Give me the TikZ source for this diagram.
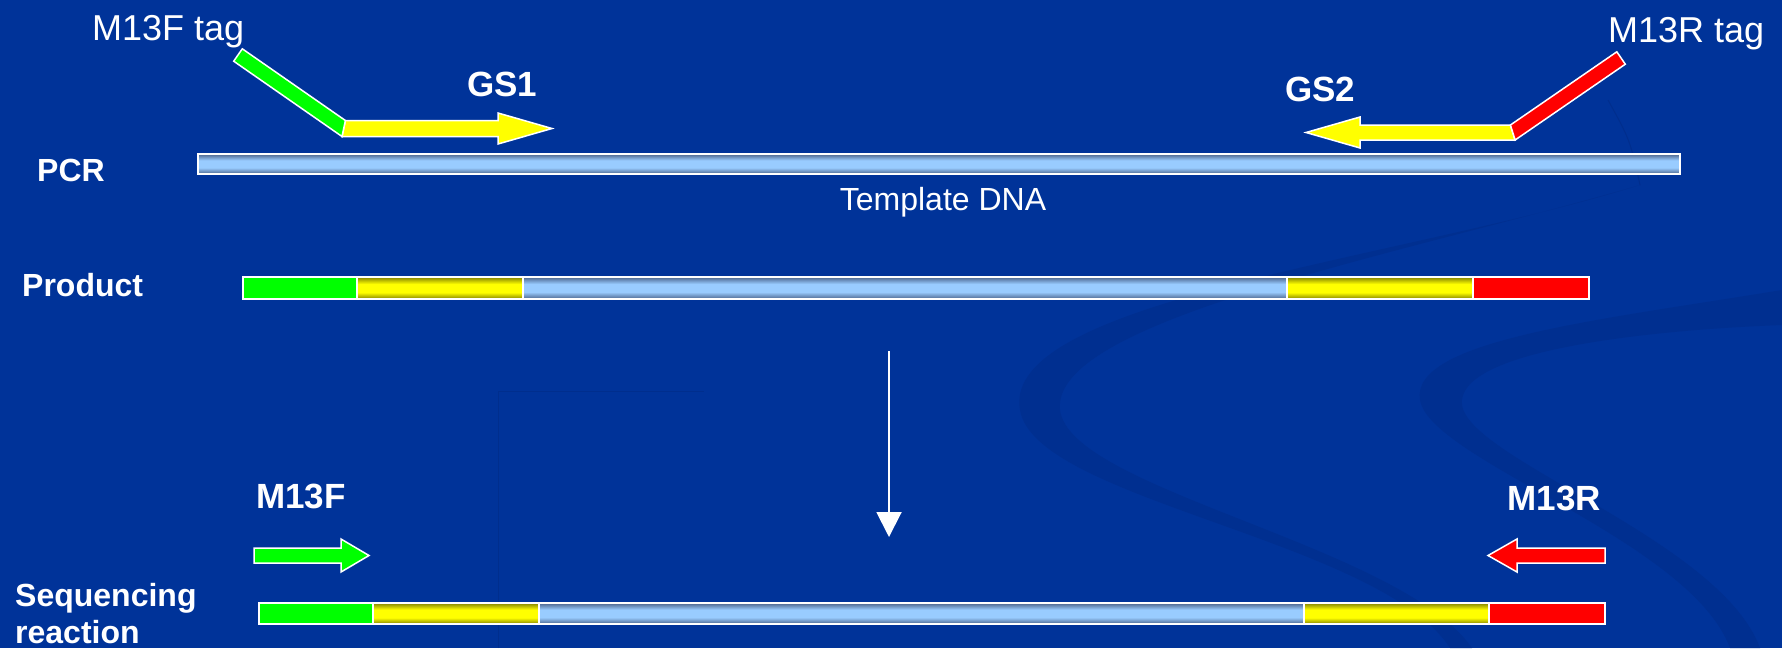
\documentclass[tikz,border=0pt]{standalone}
\usepackage{fontspec}
\setmainfont{Liberation Sans}
\usetikzlibrary{arrows.meta}
\definecolor{bg}{RGB}{0,51,153}
\definecolor{swirl}{RGB}{0,47,144}
\definecolor{swirlline}{RGB}{0,46,141}
\definecolor{pgreen}{RGB}{0,255,0}
\definecolor{pyellow}{RGB}{255,255,0}
\definecolor{pred}{RGB}{255,0,0}
\definecolor{yedge}{RGB}{130,130,0}
\definecolor{bedge}{RGB}{75,100,140}
\definecolor{bmid}{RGB}{153,204,255}
\pgfdeclareverticalshading{ybarshade}{100bp}{color(0bp)=(yedge); color(25bp)=(yedge); color(40bp)=(pyellow); color(59bp)=(pyellow); color(75bp)=(yedge); color(100bp)=(yedge)}
\pgfdeclareverticalshading{bbarshade}{100bp}{color(0bp)=(bedge); color(25bp)=(bedge); color(41bp)=(bmid); color(59bp)=(bmid); color(75bp)=(bedge); color(100bp)=(bedge)}
\tikzset{
  primer/.style={draw=white, line width=1.5pt, line join=miter},
  seg/.style={draw=white, line width=2pt},
  gseg/.style={seg, fill=pgreen},
  rseg/.style={seg, fill=pred},
  yseg/.style={seg, shading=ybarshade},
  bseg/.style={seg, shading=bbarshade},
  barframe/.style={draw=white, line width=2.5pt},
  lbl/.style={text=white, inner sep=0pt, anchor=base west, font=\fontsize{32}{38}\selectfont\bfseries},
  plbl/.style={text=white, inner sep=0pt, font=\fontsize{35}{42}\selectfont\bfseries},
  taglbl/.style={text=white, inner sep=0pt, anchor=base west, font=\fontsize{36}{43}\selectfont},
}
\begin{document}
\begin{tikzpicture}[x=1pt,y=-1pt]
\fill[bg] (0,0) rectangle (1782,648);
\useasboundingbox (0,0) rectangle (1782,648);
% background decoration
\fill[swirl] (1640,185) .. controls (1400,260) and (1000,300) .. (1020,410)
  .. controls (1035,500) and (1380,540) .. (1450,648) -- (1472,648)
  .. controls (1400,545) and (1070,490) .. (1060,410)
  .. controls (1050,320) and (1400,255) .. (1640,185) -- cycle;
\draw[swirlline, line width=1pt] (1608,100) .. controls (1630,140) .. (1640,185);
\fill[swirl] (1782,290) .. controls (1600,320) and (1410,340) .. (1420,400)
  .. controls (1430,460) and (1690,540) .. (1730,648) -- (1760,648)
  .. controls (1720,540) and (1470,460) .. (1462,405)
  .. controls (1455,350) and (1650,330) .. (1782,325) -- cycle;
\draw[swirlline, line width=1pt] (498,648) -- (498,391) -- (704,391);

% PCR row
\node[lbl] (pcr) at (37,181) {PCR};
\shade[bseg] (198,154) rectangle (1680,174);
\node[text=white, inner sep=0pt, anchor=base, font=\fontsize{32}{38}\selectfont] (tdna) at (943,210) {Template DNA};

% forward primer with tag
\filldraw[primer, fill=pyellow] (345.4,120.5) -- (498,120.5) -- (498,113) -- (552,128.5) -- (498,144) -- (498,136.5) -- (342,136.5) -- cycle;
\filldraw[primer, fill=pgreen] (242.3,48.8) -- (345.4,120.5) -- (342,136.5) -- (233.7,61.2) -- cycle;
\node[taglbl] (m13ftag) at (92,40) {M13F tag};
\node[plbl, anchor=base west] (gs1) at (467,96) {GS1};

% reverse primer with tag
\filldraw[primer, fill=pyellow] (1510.4,125) -- (1360,125) -- (1360,117) -- (1306,132.5) -- (1360,148) -- (1360,140) -- (1515.1,140) -- cycle;
\filldraw[primer, fill=pred] (1616.8,51.8) -- (1625.3,64.2) -- (1515.1,140) -- (1510.4,125) -- cycle;
\node[taglbl] (m13rtag) at (1608,42) {M13R tag};
\node[plbl, anchor=base west] (gs2) at (1285,101) {GS2};

% Product row
\node[lbl] (prod) at (22,296) {Product};
\fill[gseg] (243,277) rectangle (357,299);
\shade[yseg] (357,277) rectangle (523,299);
\shade[bseg] (523,277) rectangle (1287,299);
\shade[yseg] (1287,277) rectangle (1473,299);
\fill[rseg] (1473,277) rectangle (1589,299);
\draw[barframe] (243,277) rectangle (1589,299);

% down arrow
\coordinate (vtop) at (889,351);
\coordinate (vbot) at (889,537);
\draw[white, line width=2pt, -{Triangle[length=25pt,width=25pt]}] (vtop) -- (vbot);

% Sequencing row
\node[plbl, anchor=base west] (m13f) at (256,508) {M13F};
\node[plbl, anchor=base east] (m13r) at (1601,510) {M13R};
\filldraw[primer, fill=pgreen] (254,548) -- (341,548) -- (341,539) -- (369,555.5) -- (341,572) -- (341,563) -- (254,563) -- cycle;
\filldraw[primer, fill=pred] (1605,548) -- (1517,548) -- (1517,539) -- (1488,555.5) -- (1517,572) -- (1517,563) -- (1605,563) -- cycle;
\node[lbl] (seq) at (15,606) {Sequencing};
\node[lbl] (react) at (15,643) {reaction};
\fill[gseg] (259,603) rectangle (373,624);
\shade[yseg] (373,603) rectangle (539,624);
\shade[bseg] (539,603) rectangle (1304,624);
\shade[yseg] (1304,603) rectangle (1489,624);
\fill[rseg] (1489,603) rectangle (1605,624);
\draw[barframe] (259,603) rectangle (1605,624);
\end{tikzpicture}
\end{document}
